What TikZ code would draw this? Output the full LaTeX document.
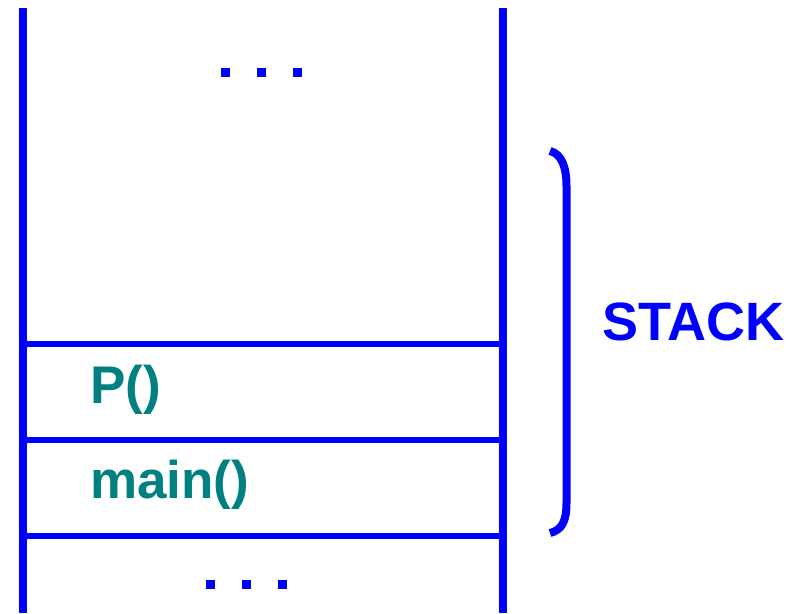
\documentclass[tikz,border=0pt]{standalone}
\usepackage{fontspec}
\setmainfont{Liberation Sans}
\definecolor{stackblue}{RGB}{0,0,255}
\definecolor{frametext}{RGB}{0,128,128}
\begin{document}
\begin{tikzpicture}[x=1pt,y=-1pt,
  wall/.style={stackblue,line width=8pt},
  divider/.style={stackblue,line width=6pt},
  bracestyle/.style={stackblue,line width=8pt},
  dotbox/.style={fill=stackblue,minimum size=9pt,inner sep=0pt,draw=none},
  framelabel/.style={frametext,font=\bfseries\fontsize{53}{53}\selectfont,inner sep=0pt,anchor=base west},
  stacklabel/.style={stackblue,font=\bfseries\fontsize{54}{54}\selectfont,inner sep=0pt,anchor=base west}]
\useasboundingbox (0,0) rectangle (795,613);
% walls
\coordinate (lt) at (23,8);
\coordinate (lb) at (23,613);
\coordinate (rt) at (503,8);
\coordinate (rb) at (503,613);
\draw[wall] (lt) -- (lb);
\draw[wall] (rt) -- (rb);
% dividers
\coordinate (d1l) at (23,344); \coordinate (d1r) at (503,344);
\coordinate (d2l) at (23,440); \coordinate (d2r) at (503,440);
\coordinate (d3l) at (23,536); \coordinate (d3r) at (503,536);
\draw[divider] (d1l) -- (d1r);
\draw[divider] (d2l) -- (d2r);
\draw[divider] (d3l) -- (d3r);
% dots
\node[dotbox] (t1) at (225.5,72.5) {};
\node[dotbox] (t2) at (261.5,72.5) {};
\node[dotbox] (t3) at (297.5,72.5) {};
\node[dotbox] (b1) at (210.5,584.5) {};
\node[dotbox] (b2) at (246.5,584.5) {};
\node[dotbox] (b3) at (282.5,584.5) {};
% labels
\node[framelabel] (p) at (90,403) {P()};
\node[framelabel] (m) at (90,498.5) {main()};
\node[stacklabel] (s) at (602,340) {STACK};
% brace
\coordinate (bt) at (550,151);
\coordinate (bb) at (550,533);
\draw[bracestyle] (bt) .. controls (562,154) and (566.5,168) .. (566.5,186) -- (566.5,503) .. controls (566.5,521) and (562,530) .. (bb);
\end{tikzpicture}
\end{document}
